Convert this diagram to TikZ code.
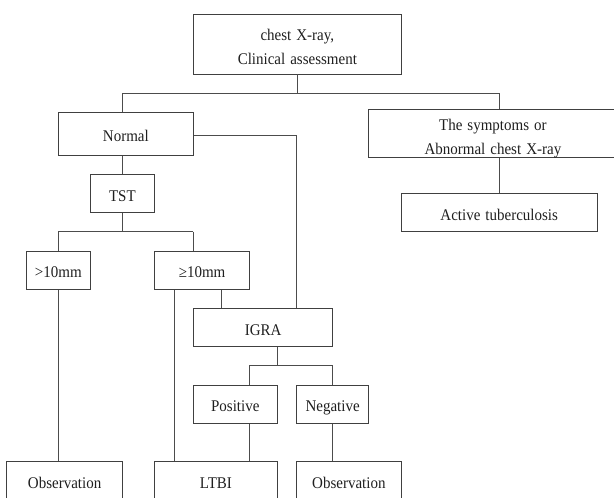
\documentclass[tikz,border=0pt]{standalone}
\usepackage{fontspec}
\setmainfont[FakeStretch=0.92,WordSpace=1.35]{Liberation Serif}
\begin{document}
\begin{tikzpicture}[x=1pt,y=-1pt,
  box/.style={draw=black!75, line width=0.9pt, rectangle, inner sep=0pt, align=center,
    font=\fontsize{16.3}{24}\selectfont, text=black!88},
  one/.style={box, text height=18.5pt, text depth=3.2pt},
  conn/.style={draw=black!70, line width=0.9pt}]
\useasboundingbox (0,0) rectangle (614,498);
% boxes
\node[box, minimum width=207.9, minimum height=59.7] (top) at (297.35,44.15) {\rule{0pt}{17.5pt}chest X-ray,\\Clinical assessment};
\node[one, minimum width=135.1, minimum height=43] (normal) at (125.85,133.8) {Normal};
\node[box, minimum width=248.2, minimum height=43] (sym) at (492.9,133.8) {\rule{0pt}{20.5pt}The symptoms or\\Abnormal chest X-ray};
\node[one, minimum width=195.8, minimum height=38.4] (active) at (499.2,212.5) {Active tuberculosis};
\node[one, minimum width=63.9, minimum height=38.4] (tst) at (122.35,193.5) {TST};
\node[one, minimum width=64.2, minimum height=38.3] (gt) at (58.3,270.15) {>10mm};
\node[one, minimum width=94.7, minimum height=38.3] (ge) at (202.05,270.15) {≥10mm};
\node[one, minimum width=139.4, minimum height=38] (igra) at (263.1,327.7) {IGRA};
\node[one, minimum width=83.8, minimum height=38.3] (pos) at (235.3,404.15) {Positive};
\node[one, minimum width=72.4, minimum height=38.3] (neg) at (332.6,404.15) {Negative};
\node[one, minimum width=115.8, minimum height=40] (obs1) at (64.6,481) {Observation};
\node[one, minimum width=122.5, minimum height=40] (ltbi) at (215.95,481) {LTBI};
\node[one, minimum width=104.9, minimum height=40] (obs2) at (348.85,481) {Observation};
% helper coordinates (bus levels and columns)
\coordinate (busA) at (0,93.3);
\coordinate (busB) at (0,231.7);
\coordinate (busC) at (0,365.7);
\coordinate (cN) at (296.4,0);
\coordinate (cL) at (174.2,0);
\coordinate (cG) at (221.2,0);
\coordinate (cI) at (277.2,0);
\coordinate (cP) at (249.4,0);
\coordinate (cQ) at (332.8,0);
\coordinate (cO) at (58.7,0);
% connectors
\draw[conn] (top.south) -- (top.south |- busA);
\draw[conn] (tst.north |- busA) -- (active.north |- busA);
\draw[conn] (tst.north |- busA) -- (tst.north |- normal.north);
\draw[conn] (active.north |- busA) -- (active.north |- sym.north);
\draw[conn] (active.north |- sym.south) -- (active.north);
\draw[conn] (tst.north |- normal.south) -- (tst.north);
\draw[conn] (tst.south) -- (tst.south |- busB);
\draw[conn] (gt.north |- busB) -- (igra.west |- busB);
\draw[conn] (gt.north |- busB) -- (gt.north);
\draw[conn] (igra.west |- busB) -- (igra.west |- ge.north);
\draw[conn] (cO |- gt.south) -- (cO |- obs1.north);
\draw[conn] (cL |- ge.south) -- (cL |- ltbi.north);
\draw[conn] (cG |- ge.south) -- (cG |- igra.north);
\draw[conn] ([yshift=-2pt]normal.east) -| (cN |- igra.north);
\draw[conn] (cI |- igra.south) -- (cI |- busC);
\draw[conn] (cP |- busC) -- (cQ |- busC);
\draw[conn] (cP |- busC) -- (cP |- pos.north);
\draw[conn] (cQ |- busC) -- (cQ |- neg.north);
\draw[conn] (cP |- pos.south) -- (cP |- ltbi.north);
\draw[conn] (cQ |- neg.south) -- (cQ |- obs2.north);
\end{tikzpicture}
\end{document}
